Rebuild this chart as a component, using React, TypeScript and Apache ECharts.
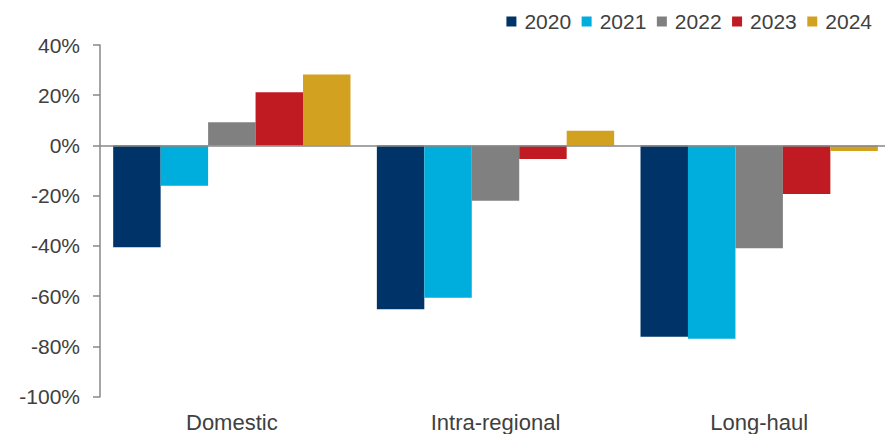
import React, { useEffect, useRef } from "react";
import * as echarts from "echarts";

const categories = ["Domestic", "Intra-regional", "Long-haul"];
const years = ["2020", "2021", "2022", "2023", "2024"];
const values2020 = [-40.5, -65.2, -76.1];
const values2021 = [-16, -60.6, -76.9];
const values2022 = [9.2, -22, -40.9];
const values2023 = [21.2, -5.4, -19.3];
const values2024 = [28.3, 5.9, -2.2];
const seriesValues = [values2020, values2021, values2022, values2023, values2024];
const colors = ["#003468", "#00AEDE", "#808080", "#C01B22", "#D3A120"];

const FONT = "'Liberation Sans', Arial, sans-serif";
const TEXT = "#404040";
const AXIS = "#878787";

export default function App() {
  const ref = useRef<HTMLDivElement>(null);
  useEffect(() => {
    if (!ref.current) return;
    const chart = echarts.init(ref.current, undefined, { renderer: "svg" });
    const series: any[] = years.map((y, i) => ({
      name: y,
      type: "bar",
      data: seriesValues[i],
      barGap: "0%",
      barCategoryGap: "10%",
      itemStyle: { color: colors[i] },
      z: 2,
    }));
    series[0].markLine = {
      silent: true,
      symbol: ["none", "none"],
      label: { show: false },
      lineStyle: { color: AXIS, width: 1.5, type: "solid" },
      data: [{ yAxis: 0 }],
      z: 3,
    };
    chart.setOption({
      animation: false,
      color: colors,
      textStyle: { fontFamily: FONT },
      legend: {
        data: years,
        right: 14,
        top: 6,
        itemWidth: 10,
        itemHeight: 10,
        itemGap: 10.5,
        icon: "rect",
        textStyle: {
          fontSize: 21,
          color: TEXT,
          fontFamily: FONT,
          padding: [0, 0, 0, 3],
        },
      },
      grid: { left: 100, right: 0, top: 45, bottom: 37.3 },
      xAxis: {
        type: "category",
        data: categories,
        axisLine: { show: false },
        axisTick: { show: false },
        axisLabel: {
          fontSize: 22,
          color: TEXT,
          fontFamily: FONT,
          margin: 15,
        },
      },
      yAxis: {
        type: "value",
        min: -100,
        max: 40,
        interval: 20,
        splitLine: { show: false },
        axisLine: { show: true, lineStyle: { color: AXIS, width: 1.5 } },
        axisTick: { show: true, length: 7, lineStyle: { color: AXIS, width: 1.5 } },
        axisLabel: {
          formatter: "{value}%",
          fontSize: 21,
          color: TEXT,
          fontFamily: FONT,
          margin: 20,
        },
      },
      series,
    });
    return () => chart.dispose();
  }, []);
  return (
    <div
      style={{
        position: "absolute",
        left: 0,
        top: 0,
        width: 885,
        height: 434,
        overflow: "hidden",
        background: "#fff",
      }}
    >
      <div ref={ref} style={{ position: "absolute", left: 0, top: 0, width: 891, height: 434 }} />
    </div>
  );
}
